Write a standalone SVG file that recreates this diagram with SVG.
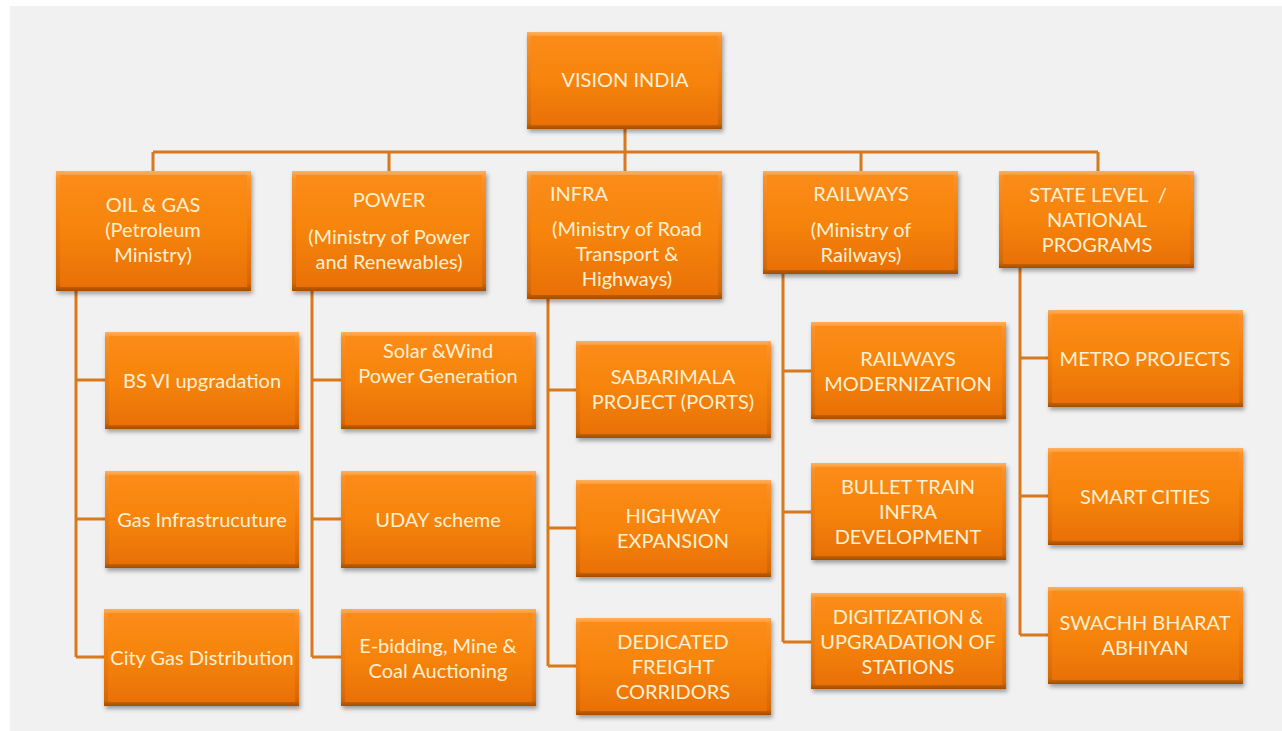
<svg xmlns="http://www.w3.org/2000/svg" width="1282" height="731" viewBox="0 0 1282 731">
<defs>
<linearGradient id="edge" x1="0" y1="0" x2="0" y2="1">
<stop offset="0" stop-color="#ffb060"/>
<stop offset="0.06" stop-color="#fa9228"/>
<stop offset="0.5" stop-color="#ef7d0c"/>
<stop offset="0.94" stop-color="#d46806"/>
<stop offset="1" stop-color="#a04e05"/>
</linearGradient>
<linearGradient id="face" x1="0" y1="0" x2="0" y2="1">
<stop offset="0" stop-color="#fb8c18"/>
<stop offset="0.5" stop-color="#f6840c"/>
<stop offset="1" stop-color="#e97006"/>
</linearGradient>
<filter id="sh" x="-10%" y="-10%" width="125%" height="130%">
<feDropShadow dx="1.5" dy="3" stdDeviation="2" flood-color="#000" flood-opacity="0.35"/>
</filter>
</defs>
<style>
.o{fill:url(#edge);filter:url(#sh)}
.f{fill:url(#face)}
text{font-family:Lato,"Open Sans",sans-serif;font-size:20px;fill:#fff0d2;text-anchor:middle;white-space:pre}
.c{fill:none;stroke:#d7791c;stroke-width:3}
</style>
<rect x="0" y="0" width="1282" height="731" fill="#ffffff"/>
<rect x="10" y="6" width="1272" height="725" fill="#f1f1f1"/>
<g id="connectors">
<path class="c" d="M625 129V152M153 152H1098M153 152V171M389 152V171M625 152V171M861 152V171M1098 152V171"/>
<path class="c" d="M76 291V657M76 380H105M76 519H105M76 657H105"/>
<path class="c" d="M312 291V657M312 380H341M312 519H341M312 657H341"/>
<path class="c" d="M548 299V666M548 390H576M548 528H576M548 666H576"/>
<path class="c" d="M783 274V642M783 371H811M783 512H811M783 642H811"/>
<path class="c" d="M1020 268V635M1020 358H1048M1020 496H1048M1020 635H1048"/>
</g>
<g id="vision-india"><rect class="o" x="527" y="32" width="195" height="97"/><rect class="f" x="531" y="36" width="187" height="89"/><text x="625" y="87">VISION INDIA</text></g>
<g id="oil-gas"><rect class="o" x="56" y="171" width="195" height="120"/><rect class="f" x="60" y="175" width="187" height="112"/><text x="153" y="212">OIL &amp; GAS</text><text x="153" y="237">(Petroleum</text><text x="153" y="262">Ministry)</text></g>
<g id="power"><rect class="o" x="292" y="171" width="194" height="120"/><rect class="f" x="296" y="175" width="186" height="112"/><text x="389" y="207">POWER</text><text x="389" y="244">(Ministry of Power</text><text x="389" y="269">and Renewables)</text></g>
<g id="infra"><rect class="o" x="527" y="171" width="195" height="128"/><rect class="f" x="531" y="175" width="187" height="120"/><text x="579" y="201">INFRA</text><text x="627" y="236">(Ministry of Road</text><text x="627" y="261">Transport &amp;</text><text x="627" y="286">Highways)</text></g>
<g id="railways"><rect class="o" x="763" y="171" width="195" height="103"/><rect class="f" x="767" y="175" width="187" height="95"/><text x="861" y="201">RAILWAYS</text><text x="861" y="237">(Ministry of</text><text x="861" y="262">Railways)</text></g>
<g id="state-level"><rect class="o" x="999" y="171" width="195" height="97"/><rect class="f" x="1003" y="175" width="187" height="89"/><text x="1098" y="202">STATE LEVEL  /</text><text x="1097" y="227">NATIONAL</text><text x="1097" y="252">PROGRAMS</text></g>
<g id="bs-vi"><rect class="o" x="105" y="332" width="194" height="97"/><rect class="f" x="109" y="336" width="186" height="89"/><text x="202" y="388">BS VI upgradation</text></g>
<g id="gas-infra"><rect class="o" x="105" y="471" width="194" height="97"/><rect class="f" x="109" y="475" width="186" height="89"/><text x="202" y="527">Gas Infrastrucuture</text></g>
<g id="city-gas"><rect class="o" x="104" y="609" width="195" height="97"/><rect class="f" x="108" y="613" width="187" height="89"/><text x="202" y="665">City Gas Distribution</text></g>
<g id="solar-wind"><rect class="o" x="341" y="332" width="195" height="97"/><rect class="f" x="345" y="336" width="187" height="89"/><text x="438" y="358">Solar &amp;Wind</text><text x="438" y="383">Power Generation</text></g>
<g id="uday"><rect class="o" x="341" y="471" width="195" height="97"/><rect class="f" x="345" y="475" width="187" height="89"/><text x="438" y="527">UDAY scheme</text></g>
<g id="e-bidding"><rect class="o" x="341" y="609" width="195" height="97"/><rect class="f" x="345" y="613" width="187" height="89"/><text x="438" y="653">E-bidding, Mine &amp;</text><text x="438" y="678">Coal Auctioning</text></g>
<g id="sabarimala"><rect class="o" x="576" y="341" width="195" height="97"/><rect class="f" x="580" y="345" width="187" height="89"/><text x="673" y="384">SABARIMALA</text><text x="673" y="409">PROJECT (PORTS)</text></g>
<g id="highway"><rect class="o" x="576" y="480" width="195" height="97"/><rect class="f" x="580" y="484" width="187" height="89"/><text x="673" y="523">HIGHWAY</text><text x="673" y="548">EXPANSION</text></g>
<g id="freight"><rect class="o" x="576" y="618" width="195" height="97"/><rect class="f" x="580" y="622" width="187" height="89"/><text x="673" y="649">DEDICATED</text><text x="673" y="674">FREIGHT</text><text x="673" y="699">CORRIDORS</text></g>
<g id="rail-mod"><rect class="o" x="811" y="322" width="195" height="97"/><rect class="f" x="815" y="326" width="187" height="89"/><text x="908" y="366">RAILWAYS</text><text x="908" y="391">MODERNIZATION</text></g>
<g id="bullet"><rect class="o" x="811" y="463" width="195" height="97"/><rect class="f" x="815" y="467" width="187" height="89"/><text x="908" y="494">BULLET TRAIN</text><text x="908" y="519">INFRA</text><text x="908" y="544">DEVELOPMENT</text></g>
<g id="digitization"><rect class="o" x="811" y="593" width="195" height="96"/><rect class="f" x="815" y="597" width="187" height="88"/><text x="908" y="624">DIGITIZATION &amp;</text><text x="908" y="649">UPGRADATION OF</text><text x="908" y="674">STATIONS</text></g>
<g id="metro"><rect class="o" x="1048" y="310" width="195" height="97"/><rect class="f" x="1052" y="314" width="187" height="89"/><text x="1145" y="366">METRO PROJECTS</text></g>
<g id="smart-cities"><rect class="o" x="1048" y="448" width="195" height="97"/><rect class="f" x="1052" y="452" width="187" height="89"/><text x="1145" y="504">SMART CITIES</text></g>
<g id="swachh"><rect class="o" x="1048" y="587" width="195" height="97"/><rect class="f" x="1052" y="591" width="187" height="89"/><text x="1145" y="630">SWACHH BHARAT</text><text x="1145" y="655">ABHIYAN</text></g>
</svg>
